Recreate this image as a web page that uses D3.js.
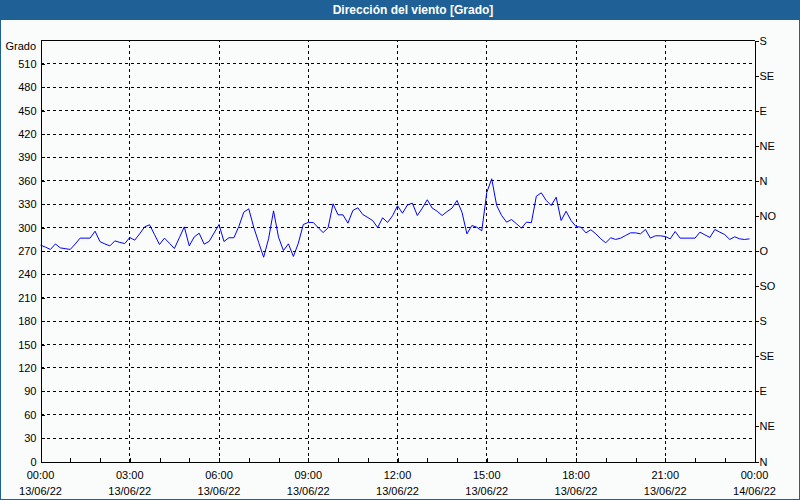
<!DOCTYPE html>
<html><head><meta charset="utf-8">
<script src="https://cdn.jsdelivr.net/npm/d3@7"></script>
<style>
body{margin:0;background:#fafcfc}
svg{display:block}
text{font-family:"Liberation Sans",Arial,sans-serif;font-size:11px;fill:#000}
</style>
</head><body>
<svg id="chart" width="800" height="500"></svg>
<script>
// ---- data ----
const chartTitle = "Dirección del viento [Grado]";
const unitLabel = "Grado";
const startTime = new Date(2022, 5, 13, 0, 0);
const stepMinutes = 10;
const windDirection = [
  277.5,275,272,279,274,273,272,279,286.5,286.5,286.5,295.4,282,279,276.6,283,281,279.6,
  287.3,283.9,292,301,303.6,291,278.3,286.5,280,273.2,287,301,276.6,288,292.8,278.8,282.2,293,
  304,282.2,287,287,301.4,319.8,324.1,300.5,281,262,285.7,321.5,287.7,270.6,279.2,263,280,304,
  306.6,306.6,300,293.7,299.7,330.5,316.4,316.4,305.7,322,325.4,316.8,313,309,300.1,312.6,306.6,315.2,
  328,318.5,329,331.4,315.5,325,335.7,325,321,315.5,320.6,325,334.8,319.8,292,302.7,300.5,295.9,
  345,362.6,328.4,315.5,307,310.4,304.9,299.3,307,306.3,340.3,344.6,334.8,328.4,339,309.1,321,309.1,
  301.4,300.5,293.3,297.2,292,285.6,280.5,287,284.8,286.5,289.9,293.3,293.3,292,297.6,286.5,289.5,289.5,
  288.6,285.6,295,286.5,286.5,286.5,286.5,294.2,290.7,287.4,297.6,294.2,291.1,284.8,288.2,285.6,284.8,285.6
];
const leftTickValues = [0,30,60,90,120,150,180,210,240,270,300,330,360,390,420,450,480,510];
const rightTickValues = [0,45,90,135,180,225,270,315,360,405,450,495,540];
const rightTickLabels = ["N","NE","E","SE","S","SO","O","NO","N","NE","E","SE","S"];
const timeTickLabels = ["00:00","03:00","06:00","09:00","12:00","15:00","18:00","21:00","00:00"];
const dateTickLabels = ["13/06/22","13/06/22","13/06/22","13/06/22","13/06/22","13/06/22","13/06/22","13/06/22","14/06/22"];
const yDomain = [0, 540];

// ---- drawing ----
const svg = d3.select("#chart");
const W = 800, H = 500;
const hour = 3600 * 1000;
const endTime = new Date(startTime.getTime() + 24 * hour);
const points = windDirection.map((v, i) => ({t: new Date(startTime.getTime() + i * stepMinutes * 60000), v}));

const x = d3.scaleTime().domain([startTime, endTime]).range([40.5, 754.5]);
const y = d3.scaleLinear().domain(yDomain).range([461.5, 40.5]);

svg.append("rect").attr("x",0).attr("y",0).attr("width",W).attr("height",H).attr("fill","#fafcfc");
svg.append("rect").attr("x",0).attr("y",0).attr("width",W).attr("height",20).attr("fill","#1f6196");
svg.append("rect").attr("x",0.5).attr("y",0.5).attr("width",W-1).attr("height",H-1)
  .attr("fill","none").attr("stroke","#1f6196").attr("stroke-width",1);
svg.append("text").attr("x",413).attr("y",10).attr("text-anchor","middle").attr("dominant-baseline","central")
  .style("fill","#fff").style("font-weight","bold").style("font-size","12px").text(chartTitle);

// grid
const threeHourTicks = timeTickLabels.map((d, i) => new Date(startTime.getTime() + i * 3 * hour));
svg.append("g").selectAll("line").data(leftTickValues.filter(v => v > 0)).join("line")
  .attr("x1", x.range()[0]).attr("x2", x.range()[1])
  .attr("y1", d => y(d)).attr("y2", d => y(d))
  .attr("stroke","#000").attr("stroke-dasharray","3,3").attr("shape-rendering","crispEdges");
svg.append("g").selectAll("line").data(threeHourTicks.slice(1, -1)).join("line")
  .attr("x1", d => x(d)).attr("x2", d => x(d))
  .attr("y1", y.range()[0]).attr("y2", y.range()[1])
  .attr("stroke","#000").attr("stroke-dasharray","3,3").attr("shape-rendering","crispEdges");

// line
svg.append("path").datum(points)
  .attr("fill","none").attr("stroke","#0000ff").attr("stroke-width",1)
  .attr("d", d3.line().x(d => x(d.t)).y(d => y(d.v)));

// frame top
svg.append("line").attr("x1",x.range()[0]).attr("x2",x.range()[1]).attr("y1",y.range()[1]).attr("y2",y.range()[1])
  .attr("stroke","#000").attr("shape-rendering","crispEdges");

// left axis
const gL = svg.append("g").attr("transform",`translate(${x.range()[0]},0)`)
  .call(d3.axisLeft(y).tickValues(leftTickValues).tickSize(-4).tickPadding(4).tickSizeOuter(0));
// right axis
const gR = svg.append("g").attr("transform",`translate(${x.range()[1]},0)`)
  .call(d3.axisRight(y).tickValues(rightTickValues).tickFormat((d,i) => rightTickLabels[i]).tickSize(4).tickPadding(1).tickSizeOuter(0));
// bottom axis: hourly inward ticks
const hourly = d3.range(0, 25).map(h => new Date(startTime.getTime() + h * hour));
const gB = svg.append("g").attr("transform",`translate(0,${y.range()[0]})`)
  .call(d3.axisBottom(x).tickValues(hourly).tickSize(-4).tickFormat("").tickSizeOuter(0));
[gL, gR, gB].forEach(g => {
  g.select(".domain").attr("stroke","#000").attr("shape-rendering","crispEdges");
  g.selectAll(".tick line").attr("stroke","#000").attr("shape-rendering","crispEdges");
  g.selectAll("text").attr("font-family",null).attr("font-size",null).style("fill","#000");
});

// bottom labels
const lab = svg.append("g");
lab.selectAll("text.t").data(threeHourTicks).join("text").attr("class","t")
  .attr("x", d => x(d)).attr("y", 475).attr("text-anchor","middle").attr("dominant-baseline","central")
  .text((d,i) => timeTickLabels[i]);
lab.selectAll("text.d").data(threeHourTicks).join("text").attr("class","d")
  .attr("x", d => x(d)).attr("y", 491).attr("text-anchor","middle").attr("dominant-baseline","central")
  .text((d,i) => dateTickLabels[i]);

svg.append("text").attr("x",36).attr("y",46).attr("text-anchor","end").attr("dominant-baseline","central").text(unitLabel);
</script>
</body></html>
